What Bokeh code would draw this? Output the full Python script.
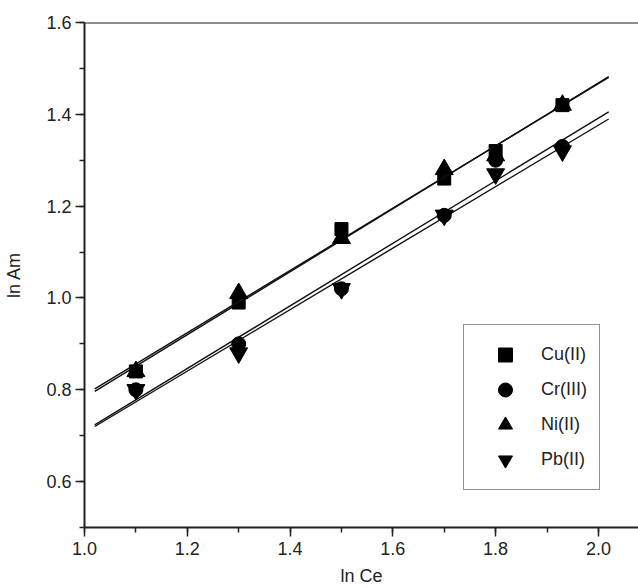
import numpy as np
from bokeh.plotting import figure
from bokeh.models import (Range1d, Span, Legend, LegendItem, SingleIntervalTicker,
                          NumeralTickFormatter)
from bokeh.embed import file_html
from bokeh.resources import INLINE

# ---- data ----
ln_ce = [1.10, 1.30, 1.50, 1.70, 1.80, 1.93]
cu_ii = [0.84, 0.99, 1.15, 1.26, 1.32, 1.42]
cr_iii = [0.80, 0.90, 1.02, 1.18, 1.30, 1.33]
ni_ii = [0.84, 1.01, 1.13, 1.28, 1.31, 1.42]
pb_ii = [0.80, 0.88, 1.02, 1.18, 1.27, 1.32]
series_names = ["Cu(II)", "Cr(III)", "Ni(II)", "Pb(II)"]
series_values = [cu_ii, cr_iii, ni_ii, pb_ii]
markers = ["square", "circle", "triangle", "inverted_triangle"]
marker_sizes = [13, 14, 18, 18]
fit_range = [1.02, 2.02]

FONT = "Liberation Sans"
TXT = "#222222"

p = figure(width=638, height=588, output_backend="svg", toolbar_location=None,
           x_range=Range1d(1.0, 2.078), y_range=Range1d(0.5, 1.6),
           min_border_left=84, min_border_right=0, min_border_top=22,
           min_border_bottom=60)
p.outline_line_color = None
p.xgrid.visible = False
p.ygrid.visible = False
p.background_fill_color = "white"
p.border_fill_color = "white"

items = []
for name, vals, mk, sz in zip(series_names, series_values, markers, marker_sizes):
    slope, icpt = np.polyfit(ln_ce, vals, 1)
    fx = np.array(fit_range)
    p.line(fx, slope * fx + icpt, line_color="#111111", line_width=1.4)
    r = p.scatter(ln_ce, vals, marker=mk, size=sz, fill_color="black",
                  line_color="black")
    items.append(LegendItem(label=name, renderers=[r]))

# top frame line
p.add_layout(Span(location=1.6, dimension="width", line_color="#222222",
                  line_width=2))

for ax in (p.xaxis[0], p.yaxis[0]):
    ax.ticker = SingleIntervalTicker(interval=0.2, num_minor_ticks=2)
    ax.formatter = NumeralTickFormatter(format="0.0")
    ax.axis_line_color = "#222222"
    ax.axis_line_width = 2
    ax.major_tick_line_color = "#222222"
    ax.major_tick_line_width = 1.5
    ax.minor_tick_line_color = "#222222"
    ax.minor_tick_line_width = 1.5
    ax.major_tick_in = 0
    ax.major_tick_out = 9
    ax.minor_tick_in = 0
    ax.minor_tick_out = 5
    ax.major_label_text_font = FONT
    ax.major_label_text_font_size = "18px"
    ax.major_label_text_color = TXT
    ax.axis_label_text_font = FONT
    ax.axis_label_text_font_size = "18px"
    ax.axis_label_text_font_style = "normal"
    ax.axis_label_text_color = TXT

p.xaxis.axis_label = "ln Ce"
p.yaxis.axis_label = "ln Am"
p.xaxis.major_label_standoff = 5
p.xaxis.axis_label_standoff = 8
p.yaxis.major_label_standoff = 4
p.yaxis.axis_label_standoff = 19

legend = Legend(items=items, location=(379, 37))
legend.border_line_color = "#222222"
legend.border_line_width = 1
legend.background_fill_color = "white"
legend.background_fill_alpha = 1
legend.padding = 12
legend.spacing = 0
legend.glyph_width = 58
legend.glyph_height = 35
legend.label_height = 35
legend.label_standoff = 7
legend.margin = 0
legend.label_text_font = FONT
legend.label_text_font_size = "18px"
legend.label_text_color = TXT
p.add_layout(legend)

open("out.html", "w").write(file_html(p, INLINE))
